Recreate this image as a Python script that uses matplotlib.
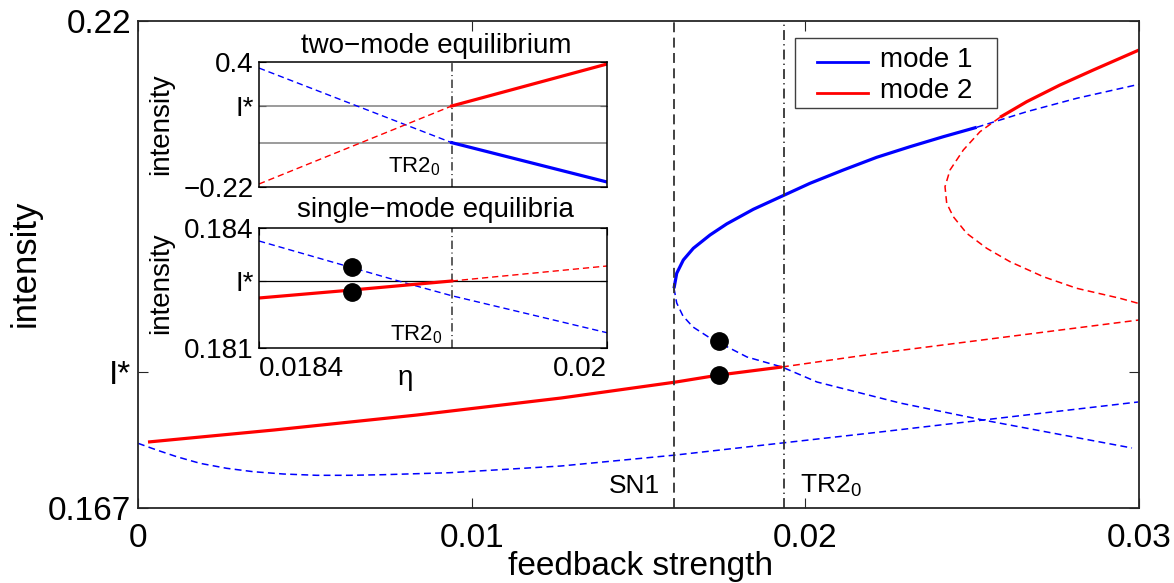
import matplotlib
matplotlib.use("Agg")
import matplotlib.pyplot as plt
from matplotlib.lines import Line2D
from matplotlib.patches import Rectangle

plt.rcParams['font.family'] = ['Liberation Sans', 'DejaVu Sans']
plt.rcParams['mathtext.fontset'] = 'custom'
plt.rcParams['mathtext.rm'] = 'Liberation Sans'
plt.rcParams['mathtext.default'] = 'regular'

# ---------------- data (main panel) ----------------
I_STAR = 0.1818
SN1_X = 0.01606
TR2_X = 0.01936

# mode 2, stable single-mode branch (solid red)
m2_stable_x = [0.0003, 0.00408, 0.00836, 0.01268, 0.01612, 0.01741, 0.01930]
m2_stable_y = [0.17418, 0.17549, 0.17712, 0.17897, 0.18071, 0.18147, 0.182345]
# mode 2, unstable continuation after TR2 (dashed red)
m2_unst_x = [0.01930, 0.02224, 0.03]
m2_unst_y = [0.182345, 0.18387, 0.18746]

# mode 1 upper branch, stable (solid blue)
m1_up_x = [0.016064, 0.016145, 0.016343, 0.016643, 0.017143, 0.017644,
           0.018441, 0.019310, 0.020140, 0.021138, 0.022139, 0.023137,
           0.024135, 0.025136]
m1_up_y = [0.190910, 0.192542, 0.193990, 0.195263, 0.196710, 0.197918,
           0.199507, 0.200955, 0.202337, 0.203784, 0.205166, 0.206320,
           0.207408, 0.208431]
# mode 1 upper branch, unstable continuation (dashed blue)
m1_up_unst_x = [0.025136, 0.026634, 0.028133, 0.03]
m1_up_unst_y = [0.208431, 0.210129, 0.211587, 0.213111]
# mode 1 lower fold branch, unstable (dashed blue)
m1_fold_x = [0.016064, 0.016145, 0.016333, 0.016633, 0.017143, 0.018252,
             0.019300, 0.020350, 0.022837, 0.025325, 0.029790]
m1_fold_y = [0.190910, 0.189310, 0.187895, 0.186698, 0.185501, 0.183433,
             0.182345, 0.180712, 0.178427, 0.176577, 0.173530]
# mode 1 lowest branch, unstable (dashed blue)
m1_low_x = [0.0, 0.00056, 0.00116, 0.001858, 0.002658, 0.003455, 0.004355,
            0.005356, 0.006354, 0.007352, 0.008353, 0.009351, 0.012677,
            0.016124, 0.0193, 0.022238, 0.02997]
m1_low_y = [0.174041, 0.173312, 0.172583, 0.171864, 0.171320, 0.170950,
            0.170700, 0.170558, 0.170558, 0.170624, 0.170733, 0.170842,
            0.171571, 0.172768, 0.174074, 0.175271, 0.178536]

# mode 2 upper branch, stable (solid red)
m2_up_x = [0.025834, 0.026634, 0.027632, 0.028630, 0.03]
m2_up_y = [0.209520, 0.211217, 0.213035, 0.214667, 0.216844]
# mode 2 fold, unstable (dashed red)
m2_fold_x = [0.025834, 0.025235, 0.024735, 0.024336, 0.024186, 0.024237,
             0.024435, 0.024836, 0.025436, 0.026134, 0.027132, 0.028133,
             0.029431, 0.03]
m2_fold_y = [0.209520, 0.207953, 0.205961, 0.203784, 0.201967, 0.200160,
             0.198702, 0.196895, 0.195263, 0.193805, 0.192172, 0.190910,
             0.189821, 0.189250]

dots_x = [0.01741, 0.01741]
dots_y = [0.18517, 0.18147]

main_xticks = [0.0, 0.01, 0.02, 0.03]
main_xticklabels = ['0', '0.01', '0.02', '0.03']
main_yticks = [0.167, I_STAR, 0.22]
main_yticklabels = ['0.167', 'I*', '0.22']
legend_labels = ['mode 1', 'mode 2']

# ---------------- data (inset: two-mode equilibrium) ----------------
ETA_TR2 = 0.019286
I_STAR_TWO = 0.1818
two_blue_dash_x = [0.0184, ETA_TR2]
two_blue_dash_y = [0.370, 0.0]
two_blue_solid_x = [ETA_TR2, 0.02]
two_blue_solid_y = [0.0, -0.1952]
two_red_dash_x = [0.0184, ETA_TR2]
two_red_dash_y = [-0.2051, I_STAR_TWO]
two_red_solid_x = [ETA_TR2, 0.02]
two_red_solid_y = [I_STAR_TWO, 0.390]
two_yticks = [-0.22, I_STAR_TWO, 0.4]
two_yticklabels = ['\u22120.22', 'I*', '0.4']

# ---------------- data (inset: single-mode equilibria) ----------------
I_STAR_ONE = 0.18268
one_red_solid_x = [0.0184, 0.018828, ETA_TR2]
one_red_solid_y = [0.18225, 0.18245, 0.182675]
one_red_dash_x = [ETA_TR2, 0.02]
one_red_dash_y = [0.182675, 0.18305]
one_blue_dash_x = [0.0184, 0.019079, ETA_TR2, 0.02]
one_blue_dash_y = [0.183675, 0.182617, 0.182307, 0.181382]
one_dots_x = [0.018828, 0.018828]
one_dots_y = [0.183025, 0.18240]
one_yticks = [0.181, I_STAR_ONE, 0.184]
one_yticklabels = ['0.181', 'I*', '0.184']
one_xticks = [0.0184, 0.02]
one_xticklabels = ['0.0184', '0.02']

# ---------------- styling ----------------
W, H = 1174, 583
BLUE = '#0000ff'
RED = '#ff0000'
VLC = '#333333'
SPC = '#262626'
LW_S = 2.3
LW_D = 1.1
DASH = (4.5, 2.8)
VDASH = (5.5, 3.0)
VDASHDOT = (5.5, 2.3, 0.7, 2.3)


def fx(px):
    return px / W


def fy(py):
    return 1 - py / H


fig = plt.figure(figsize=(W / 100, H / 100), dpi=100)

# ---------------- main axes ----------------
ax = fig.add_axes([fx(138), fy(508), 1001 / W, 487 / H])
ax.set_xlim(0, 0.03)
ax.set_ylim(0.167, 0.22)

ax.plot(m1_low_x, m1_low_y, color=BLUE, lw=LW_D, dashes=DASH)
ax.plot(m1_fold_x, m1_fold_y, color=BLUE, lw=LW_D, dashes=DASH)
ax.plot(m1_up_unst_x, m1_up_unst_y, color=BLUE, lw=LW_D, dashes=DASH)
ax.plot(m2_unst_x, m2_unst_y, color=RED, lw=LW_D, dashes=DASH)
ax.plot(m2_fold_x, m2_fold_y, color=RED, lw=LW_D, dashes=DASH)
ax.plot(m1_up_x, m1_up_y, color=BLUE, lw=LW_S, solid_capstyle='butt')
ax.plot(m2_stable_x, m2_stable_y, color=RED, lw=LW_S, solid_capstyle='butt')
ax.plot(m2_up_x, m2_up_y, color=RED, lw=LW_S, solid_capstyle='butt')
ax.axvline(SN1_X, color=VLC, lw=1.3, dashes=VDASH)
ax.axvline(TR2_X, color=VLC, lw=1.3, dashes=VDASHDOT)
ax.plot(dots_x, dots_y, 'o', color='black', ms=12.5, zorder=5)

ax.set_xticks(main_xticks)
ax.set_xticklabels(main_xticklabels)
ax.set_yticks(main_yticks)
ax.set_yticklabels(main_yticklabels)
ax.tick_params(direction='in', length=7, width=0.8, labelsize=24,
               top=True, right=True, color=SPC)
ax.tick_params(axis='x', pad=11)
ax.tick_params(axis='y', pad=5)
for s in ax.spines.values():
    s.set_color(SPC)
    s.set_linewidth(1.3)

ax.text(fx(660), fy(493), 'SN1', transform=fig.transFigure, ha='right',
        va='baseline', fontsize=19)
ax.text(fx(800), fy(493), 'TR2$_0$', transform=fig.transFigure, ha='left',
        va='baseline', fontsize=19)

# legend box (drawn in figure coordinates)
fig.patches.append(Rectangle((fx(795), fy(108)), 202 / W, 70 / H,
                             transform=fig.transFigure, facecolor='white',
                             edgecolor='#404040', lw=1.0, zorder=10))
for ypx, col, lab, base in [(61.7, BLUE, legend_labels[0], 67),
                            (93.3, RED, legend_labels[1], 98)]:
    fig.add_artist(Line2D([fx(817), fx(868)], [fy(ypx), fy(ypx)], color=col,
                          lw=2.0, transform=fig.transFigure, zorder=11))
    fig.text(fx(880), fy(base), lab, ha='left', va='baseline', fontsize=20,
             zorder=11)

fig.text(fx(35), fy(263), 'intensity', rotation=90, rotation_mode='anchor',
         ha='center', va='baseline', fontsize=25)
fig.text(fx(640), fy(575), 'feedback strength', ha='center', va='baseline',
         fontsize=24)

# ---------------- inset 1: two-mode equilibrium ----------------
a1 = fig.add_axes([fx(259), fy(187), 348 / W, 125 / H])
a1.set_xlim(0.0184, 0.02)
a1.set_ylim(-0.22, 0.4)
a1.axhline(I_STAR_TWO, color='#808080', lw=1.1)
a1.axhline(0.0, color='#808080', lw=1.1)
a1.axvline(ETA_TR2, color=VLC, lw=1.1, dashes=VDASHDOT)
a1.plot(two_blue_dash_x, two_blue_dash_y, color=BLUE, lw=1.0, dashes=DASH)
a1.plot(two_red_dash_x, two_red_dash_y, color=RED, lw=1.0, dashes=DASH)
a1.plot(two_blue_solid_x, two_blue_solid_y, color=BLUE, lw=LW_S)
a1.plot(two_red_solid_x, two_red_solid_y, color=RED, lw=LW_S)
a1.set_yticks(two_yticks)
a1.set_yticklabels(two_yticklabels)
a1.set_xticks([])
a1.tick_params(direction='in', length=5, width=0.8, labelsize=20, right=True,
               pad=4)
for s in a1.spines.values():
    s.set_color('black')
    s.set_linewidth(1.1)
fig.text(fx(388), fy(172), 'TR2$_0$', ha='left', va='baseline', fontsize=16)
fig.text(fx(168), fy(124.5), 'intensity', rotation=90, rotation_mode='anchor',
         ha='center', va='baseline', fontsize=20)
fig.text(fx(436), fy(53), 'two\u2212mode equilibrium', ha='center',
         va='baseline', fontsize=20)

# ---------------- inset 2: single-mode equilibria ----------------
a2 = fig.add_axes([fx(259), fy(348), 348 / W, 120 / H])
a2.set_xlim(0.0184, 0.02)
a2.set_ylim(0.181, 0.184)
a2.axhline(I_STAR_ONE, color='black', lw=0.9)
a2.axvline(ETA_TR2, color=VLC, lw=1.1, dashes=VDASHDOT)
a2.plot(one_blue_dash_x, one_blue_dash_y, color=BLUE, lw=1.0, dashes=DASH)
a2.plot(one_red_dash_x, one_red_dash_y, color=RED, lw=1.0, dashes=DASH)
a2.plot(one_red_solid_x, one_red_solid_y, color=RED, lw=LW_S)
a2.plot(one_dots_x, one_dots_y, 'o', color='black', ms=12.5, zorder=5)
a2.set_yticks(one_yticks)
a2.set_yticklabels(one_yticklabels)
a2.set_xticks(one_xticks)
a2.set_xticklabels(one_xticklabels)
xl = a2.get_xticklabels()
xl[0].set_ha('left')
xl[-1].set_ha('right')
a2.tick_params(direction='in', length=5, width=0.8, labelsize=20, right=True,
               top=True, pad=4)
a2.tick_params(axis='x', pad=6)
for s in a2.spines.values():
    s.set_color('black')
    s.set_linewidth(1.1)
fig.text(fx(390), fy(340), 'TR2$_0$', ha='left', va='baseline', fontsize=16)
fig.text(fx(168), fy(283), 'intensity', rotation=90, rotation_mode='anchor',
         ha='center', va='baseline', fontsize=20)
fig.text(fx(435), fy(217), 'single\u2212mode equilibria', ha='center',
         va='baseline', fontsize=20)
fig.text(fx(405), fy(385), '\u03b7', ha='center', va='baseline', fontsize=20)

fig.savefig('out.png', dpi=100)
